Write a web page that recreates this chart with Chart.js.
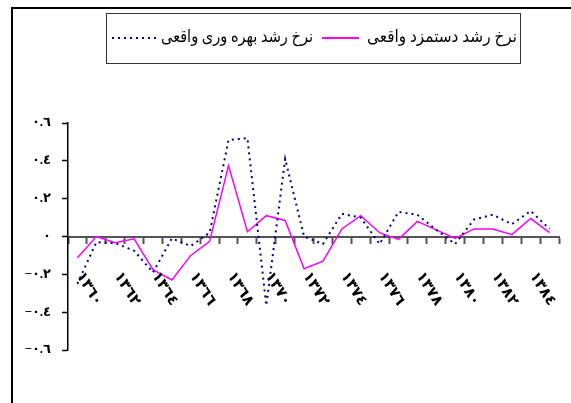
<!DOCTYPE html>
<html><head><meta charset="utf-8">
<script src="https://cdn.jsdelivr.net/npm/chart.js@4/dist/chart.umd.min.js"></script>
<style>html,body{margin:0;padding:0;background:#fff;overflow:hidden}</style>
</head><body>
<canvas id="c" width="571" height="403"></canvas>
<script>
// ---- data ----
const years = [1360,1361,1362,1363,1364,1365,1366,1367,1368,1369,1370,1371,1372,1373,1374,1375,1376,1377,1378,1379,1380,1381,1382,1383,1384,1385];
const productivityGrowth = [-0.25,-0.03,-0.035,-0.075,-0.19,-0.01,-0.05,0.02,0.51,0.52,-0.365,0.41,0.0,-0.04,0.12,0.10,-0.04,0.13,0.115,0.035,-0.04,0.09,0.115,0.065,0.135,0.04];
const wageGrowth = [-0.112,0.0,-0.033,-0.012,-0.175,-0.23,-0.1,-0.025,0.375,0.025,0.11,0.085,-0.17,-0.13,0.04,0.11,0.02,-0.015,0.08,0.035,-0.01,0.04,0.04,0.01,0.095,0.02];
const yTickValues = [-0.6,-0.4,-0.2,0,0.2,0.4,0.6];
const productivityName = 'نرخ رشد بهره وری واقعی';
const wageName = 'نرخ رشد دستمزد واقعی';

const AR = '٠١٢٣٤٥٦٧٨٩';
const toArabic = s => String(s).replace(/\d/g, d => AR[+d]);
const yearLabels = years.map(toArabic);
const fmtY = v => {
  if (Math.abs(v) < 1e-9) return '٠';
  const s = Math.abs(v).toFixed(1);
  return (v < 0 ? '−' : '') + toArabic(s);
};

const FONT = '"Times New Roman","Liberation Serif","DejaVu Sans",serif';

const decor = {
  id: 'decor',
  beforeDraw(chart) {
    const ctx = chart.ctx;
    ctx.save();
    ctx.fillStyle = '#fff';
    ctx.fillRect(0, 0, chart.width, chart.height);
    ctx.restore();
  },
  afterDraw(chart) {
    const ctx = chart.ctx;
    const xs = chart.scales.x, ys = chart.scales.y;
    ctx.save();
    // outer frame
    ctx.strokeStyle = '#000';
    ctx.lineWidth = 2;
    ctx.beginPath();
    ctx.moveTo(12, 403); ctx.lineTo(12, 8); ctx.lineTo(571, 8);
    ctx.stroke();

    // legend box
    const bx = 106.5, by = 13.5, bw = 414, bh = 50;
    ctx.lineWidth = 1;
    ctx.strokeStyle = '#333';
    ctx.strokeRect(bx, by, bw, bh);
    const cy = 38;
    ctx.font = '17px ' + FONT;
    ctx.fillStyle = '#000';
    ctx.textBaseline = 'middle';
    const ds = chart.data.datasets;
    // dotted line (productivity)
    ctx.strokeStyle = ds[0].borderColor;
    ctx.lineWidth = ds[0].borderWidth;
    ctx.setLineDash(ds[0].borderDash);
    ctx.beginPath(); ctx.moveTo(112, cy); ctx.lineTo(156, cy); ctx.stroke();
    ctx.setLineDash([]);
    ctx.textAlign = 'left';
    ctx.fillText(ds[0].label, 161, cy, 152);
    ctx.textAlign = 'right';
    ctx.fillText(ds[1].label, 517, cy, 150);
    ctx.strokeStyle = ds[1].borderColor;
    ctx.lineWidth = 2;
    ctx.beginPath(); ctx.moveTo(322, cy); ctx.lineTo(359, cy); ctx.stroke();

    // rotated x labels
    const zy = ys.getPixelForValue(0);
    ctx.font = 'bold 15px ' + FONT;
    ctx.fillStyle = '#000';
    ctx.textAlign = 'left';
    ctx.textBaseline = 'middle';
    chart.data.labels.forEach((lab, i) => {
      if (i % 2) return;
      const px = xs.getPixelForValue(i);
      ctx.save();
      ctx.translate(px + 2, zy + 37);
      ctx.rotate(58 * Math.PI / 180);
      ctx.fillText(lab, 0, 0);
      ctx.restore();
    });
    ctx.restore();
  }
};

new Chart(document.getElementById('c'), {
  type: 'line',
  data: {
    labels: yearLabels,
    datasets: [
      { label: productivityName, data: productivityGrowth, borderColor: '#000080', borderWidth: 2, borderDash: [2, 4], pointRadius: 0, tension: 0, fill: false },
      { label: wageName, data: wageGrowth, borderColor: '#FF00FF', borderWidth: 1.5, pointRadius: 0, tension: 0, fill: false }
    ]
  },
  options: {
    responsive: false,
    animation: false,
    devicePixelRatio: 1,
    layout: { padding: { top: 123, bottom: 53, left: 12, right: 12 } },
    plugins: { legend: { display: false }, tooltip: { enabled: false } },
    scales: {
      x: {
        type: 'category',
        offset: true,
        position: { y: 0 },
        grid: { offset: true, drawOnChartArea: false, drawTicks: true, tickLength: 6, color: '#555', tickWidth: 2 },
        border: { color: '#555', width: 2 },
        ticks: { display: false }
      },
      y: {
        min: -0.6, max: 0.6,
        afterBuildTicks: s => { s.ticks = yTickValues.map(v => ({ value: v })); },
        afterFit: s => { s.width = 56; },
        ticks: { padding: 11, color: '#000', font: { family: FONT, size: 13, weight: 'bold' }, callback: v => fmtY(v) },
        grid: { drawOnChartArea: false, tickLength: 6, color: '#000', tickWidth: 1.5 },
        border: { color: '#000', width: 1.5 }
      }
    }
  },
  plugins: [decor]
});
</script>
</body></html>
